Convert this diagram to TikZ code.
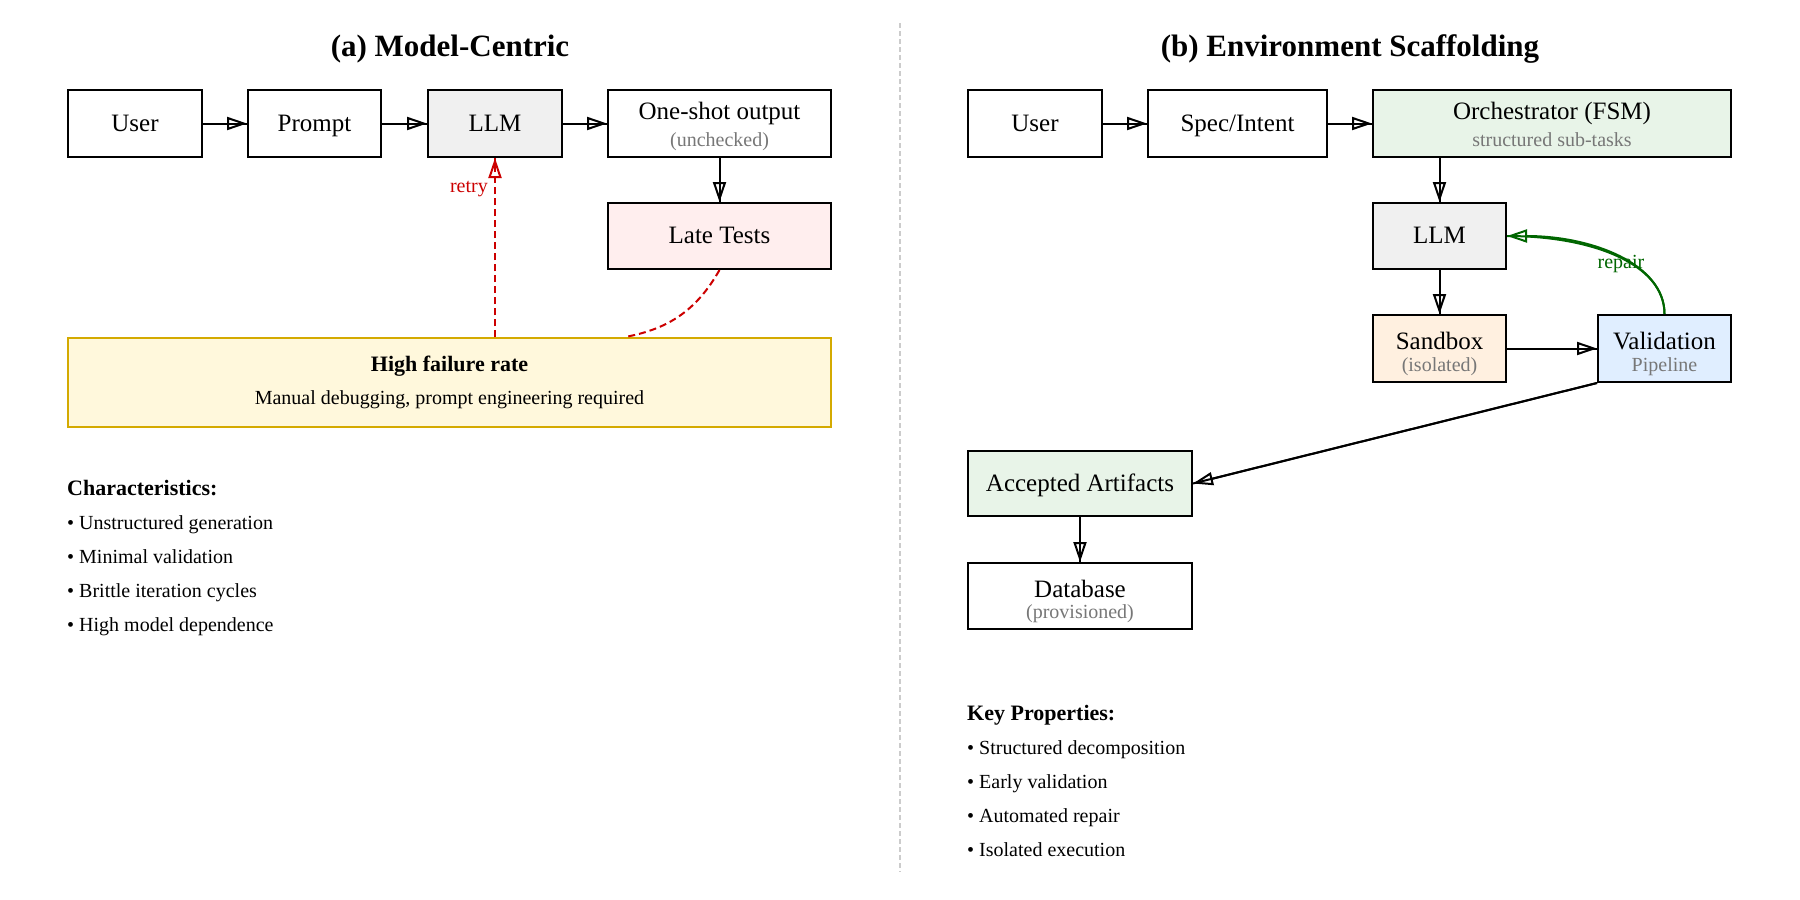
\documentclass[tikz,border=0pt]{standalone}
\usepackage{fontspec}
\setmainfont{Liberation Serif}
\usetikzlibrary{arrows.meta}
\definecolor{subgray}{HTML}{777777}
\definecolor{llmfill}{HTML}{F0F0F0}
\definecolor{pinkfill}{HTML}{FFEEEE}
\definecolor{failfill}{HTML}{FFF8DC}
\definecolor{failborder}{HTML}{D4AA00}
\definecolor{greenfill}{HTML}{E8F4E8}
\definecolor{peachfill}{HTML}{FFF0E0}
\definecolor{bluefill}{HTML}{E0EEFF}
\definecolor{retryred}{HTML}{CC0000}
\definecolor{repairgreen}{HTML}{006600}
\definecolor{divgray}{HTML}{CCCCCC}
\newcommand\boxfont{\fontsize{25}{30}\selectfont}
\newcommand\subfont{\fontsize{20}{24}\selectfont}
\newcommand\titlefont{\fontsize{31}{37}\selectfont\bfseries}
\newcommand\headfont{\fontsize{22}{26}\selectfont\bfseries}
\newcommand\listfont{\fontsize{20}{24}\selectfont}
\begin{document}
\begin{tikzpicture}[x=1pt,y=-1pt,
  box/.style={draw=black, line width=2pt, inner sep=0pt, text height=18pt, text depth=3pt, font=\boxfont, align=center},
  maintext/.style={anchor=base, inner sep=0pt, font=\boxfont},
  subtext/.style={anchor=base, inner sep=0pt, font=\subfont, text=subgray},
  flow/.style={draw=black, line width=2pt, -{Triangle[open, length=20pt, width=13pt]}, postaction={draw, -}},
  retryflow/.style={draw=retryred, line width=2pt, dash pattern=on 7pt off 4pt, -{Triangle[open, length=20pt, width=13pt]}, postaction={draw, -}},
  repairflow/.style={draw=repairgreen, line width=2pt, -{Triangle[open, length=20pt, width=13pt]}, postaction={draw, -}},
  listitem/.style={anchor=base west, inner sep=0pt, font=\listfont},
  listhead/.style={anchor=base west, inner sep=0pt, font=\headfont},
  paneltitle/.style={anchor=base, inner sep=0pt, font=\titlefont}
]
\useasboundingbox[fill=white] (0,0) rectangle (1800,900);

% divider
\draw[divgray, line width=1.5pt, dash pattern=on 5pt off 3pt] (900,23) -- (900,872);

% ---------- (a) ----------
\node[paneltitle] (titleA) at (450,56) {(a) Model-Centric};

\node[box, minimum width=134, minimum height=67] (userA) at (135,123.5) {User};
\node[box, minimum width=133, minimum height=67] (promptA) at (314.5,123.5) {Prompt};
\node[box, minimum width=134, minimum height=67, fill=llmfill] (llmA) at (495,123.5) {LLM};
\node[box, minimum width=223, minimum height=67] (oneshot) at (719.5,123.5) {};
\node[maintext] (oneshotT) at (719.5,119) {One-shot output};
\node[subtext] (oneshotS) at (719.5,146) {(unchecked)};
\node[box, minimum width=223, minimum height=66, fill=pinkfill] (late) at (719.5,236) {Late Tests};

\node[draw=failborder, fill=failfill, line width=2pt, minimum width=763, minimum height=89, inner sep=0pt] (fail) at (449.5,382.5) {};
\node[anchor=base, inner sep=0pt, font=\fontsize{22}{26}\selectfont\bfseries] (failT) at (449.5,371) {High failure rate};
\node[anchor=base, inner sep=0pt, font=\subfont] (failS) at (449.5,404) {Manual debugging, prompt engineering required};

\draw[flow] (userA) -- (promptA);
\draw[flow] (promptA) -- (llmA);
\draw[flow] (llmA) -- (oneshot);
\draw[flow] (oneshot) -- (late);

\draw[retryflow] (fail.north -| llmA.south) -- (llmA.south);
\node[anchor=base east, inner sep=0pt, font=\subfont, text=retryred] (retryL) at (488,192) {retry};

\coordinate (lateend) at (625,337);
\draw[retryred, line width=2pt, dash pattern=on 7pt off 4pt] (late.south) to[bend left=25] (lateend);

\node[listhead] (charH) at (67,495) {Characteristics:};
\node[listitem] (c1) at (67,529) {• Unstructured generation};
\node[listitem] (c2) at (67,563) {• Minimal validation};
\node[listitem] (c3) at (67,597) {• Brittle iteration cycles};
\node[listitem] (c4) at (67,631) {• High model dependence};

% ---------- (b) ----------
\node[paneltitle] (titleB) at (1350,56) {(b) Environment Scaffolding};

\node[box, minimum width=134, minimum height=67] (userB) at (1035,123.5) {User};
\node[box, minimum width=179, minimum height=67] (spec) at (1237.5,123.5) {Spec/Intent};
\node[box, minimum width=358, minimum height=67, fill=greenfill] (orch) at (1552,123.5) {};
\node[maintext] (orchT) at (1552,119) {Orchestrator (FSM)};
\node[subtext] (orchS) at (1552,146) {structured sub-tasks};

\node[box, minimum width=133, minimum height=66, fill=llmfill] (llmB) at (1439.5,236) {LLM};

\node[box, minimum width=133, minimum height=67, fill=peachfill] (sandbox) at (1439.5,348.5) {};
\node[maintext] (sandboxT) at (1439.5,349) {Sandbox};
\node[subtext] (sandboxS) at (1439.5,371) {(isolated)};

\node[box, minimum width=133, minimum height=67, fill=bluefill] (valid) at (1664.5,348.5) {};
\node[maintext] (validT) at (1664.5,349) {Validation};
\node[subtext] (validS) at (1664.5,371) {Pipeline};

\node[box, minimum width=224, minimum height=65, fill=greenfill] (accepted) at (1080,483.5) {Accepted Artifacts};

\node[box, minimum width=224, minimum height=66] (database) at (1080,596) {};
\node[maintext] (databaseT) at (1080,597) {Database};
\node[subtext] (databaseS) at (1080,618) {(provisioned)};

\draw[flow] (userB) -- (spec);
\draw[flow] (spec) -- (orch);
\draw[flow] (orch.south -| llmB.north) -- (llmB.north);
\draw[flow] (llmB) -- (sandbox);
\draw[flow] (sandbox) -- (valid);
\draw[flow] (valid.south west) -- (accepted.east);
\draw[flow] (accepted) -- (database);

\draw[repairflow] (valid.north) .. controls +(0,-50) and +(85,0) .. (llmB.east);
\node[anchor=base, inner sep=0pt, font=\subfont, text=repairgreen] (repairL) at (1621,268) {repair};

\node[listhead] (keyH) at (967,720) {Key Properties:};
\node[listitem] (k1) at (967,754) {• Structured decomposition};
\node[listitem] (k2) at (967,788) {• Early validation};
\node[listitem] (k3) at (967,822) {• Automated repair};
\node[listitem] (k4) at (967,856) {• Isolated execution};
\end{tikzpicture}
\end{document}
